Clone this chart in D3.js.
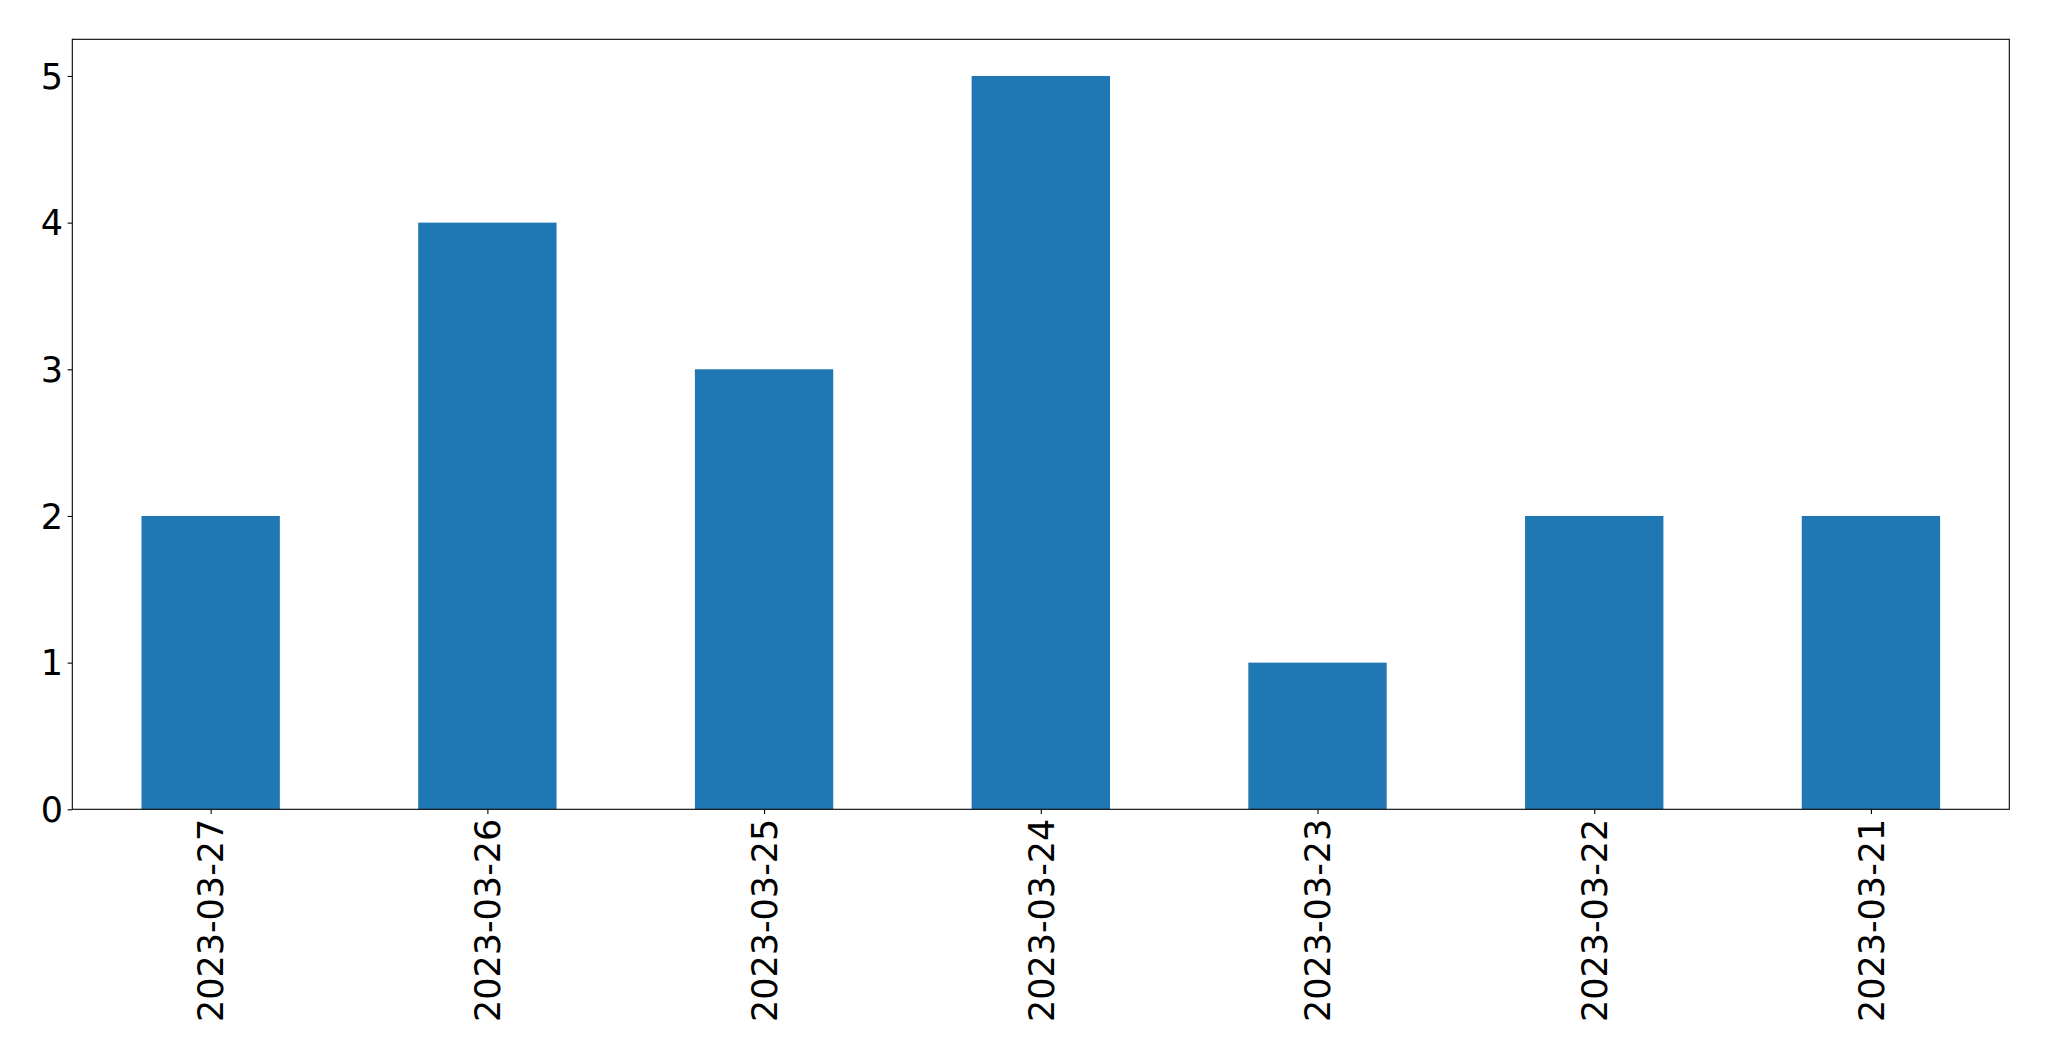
<!DOCTYPE html>
<html>
<head>
<meta charset="utf-8">
<script src="https://cdn.jsdelivr.net/npm/d3@7"></script>
<style>
  html, body { margin: 0; padding: 0; background: #fff; }
  svg { display: block; }
  text { font-family: "DejaVu Sans", sans-serif; fill: #000; }
</style>
</head>
<body>
<svg id="chart" width="2049" height="1061"></svg>
<script>
const categories = ["2023-03-27", "2023-03-26", "2023-03-25", "2023-03-24", "2023-03-23", "2023-03-22", "2023-03-21"];
const values = [2, 4, 3, 5, 1, 2, 2];
const yTicks = [0, 1, 2, 3, 4, 5];

const W = 2049, H = 1061;
const margin = { left: 72.3, right: 2049 - 2009.3, top: 39.3, bottom: 1061 - 809.3 };
const svg = d3.select("#chart");

const x = d3.scaleLinear().domain([-0.5, categories.length - 0.5]).range([margin.left, W - margin.right]);
const y = d3.scaleLinear().domain([0, 5.25]).range([H - margin.bottom, margin.top]);
const barW = x(0.5) - x(0);

svg.append("g").selectAll("rect").data(values).join("rect")
  .attr("x", (d, i) => x(i) - barW / 2)
  .attr("width", barW)
  .attr("y", d => y(d))
  .attr("height", d => y(0) - y(d))
  .attr("fill", "#1f77b4");

const fs = 35;
const yAxis = svg.append("g").attr("transform", `translate(${margin.left},0)`)
  .call(d3.axisLeft(y).tickValues(yTicks).tickFormat(d3.format("d")).tickSize(4.7).tickPadding(4.7));
yAxis.select(".domain").remove();
yAxis.selectAll("line").attr("stroke", "#000").attr("stroke-width", 1.1);
yAxis.selectAll("text").attr("font-size", fs).attr("font-family", "DejaVu Sans").attr("dy", "0.35em");

const xAxis = svg.append("g").attr("transform", `translate(0,${H - margin.bottom})`)
  .call(d3.axisBottom(x).tickValues(d3.range(categories.length)).tickFormat(i => categories[i]).tickSize(4.7).tickPadding(4.7));
xAxis.select(".domain").remove();
xAxis.selectAll("line").attr("stroke", "#000").attr("stroke-width", 1.1);
xAxis.selectAll("text")
  .attr("font-size", fs)
  .attr("font-family", "DejaVu Sans")
  .attr("text-anchor", "end")
  .attr("dy", "0.35em")
  .attr("transform", "translate(0,9.4) rotate(-90)")
  .attr("x", 0).attr("y", 0);

svg.append("rect")
  .attr("x", margin.left).attr("y", margin.top)
  .attr("width", W - margin.left - margin.right)
  .attr("height", H - margin.top - margin.bottom)
  .attr("fill", "none").attr("stroke", "#000").attr("stroke-width", 1.1);
</script>
</body>
</html>
